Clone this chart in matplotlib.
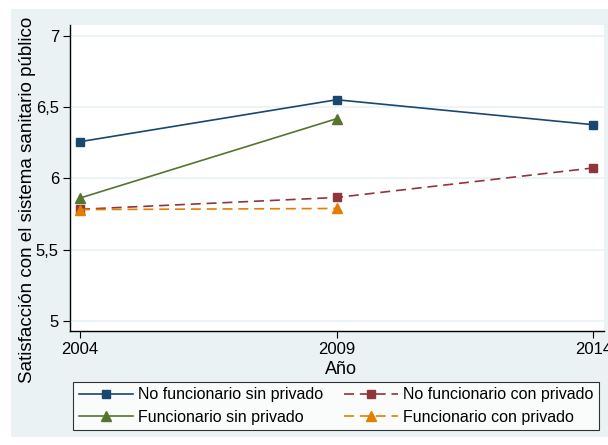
import matplotlib
matplotlib.use("Agg")
import matplotlib.pyplot as plt
from matplotlib.patches import Rectangle

plt.rcParams['font.family'] = ['Liberation Sans', 'DejaVu Sans']

years = [2004, 2009, 2014]
nf_sin = [6.257, 6.551, 6.376]
f_sin = [5.862, 6.418]
nf_con = [5.783, 5.866, 6.073]
f_con = [5.781, 5.789]
labels = ["No funcionario sin privado", "Funcionario sin privado",
          "No funcionario con privado", "Funcionario con privado"]
yticks = [5, 5.5, 6, 6.5, 7]
yticklabels = ["5", "5,5", "6", "6,5", "7"]

W, H = 608, 445
fig = plt.figure(figsize=(W/100, H/100), dpi=100)
fig.patch.set_facecolor('white')
bg = Rectangle((11/W, 1-437/H), 1-11/W, (437-9)/H, transform=fig.transFigure,
               facecolor='#eaf2f3', edgecolor='none', zorder=-10)
fig.patches.append(bg)

ax = fig.add_axes([70/W, 1-331/H, (604-70)/W, (331-25)/H])
ax.set_zorder(1)
ax.set_facecolor('white')

navy = '#1a476f'; maroon = '#90353b'; green = '#55752f'; orange = '#e37e00'
l1, = ax.plot(years, nf_sin, color=navy, lw=1.2, marker='s', ms=6, zorder=4)
l2, = ax.plot(years, nf_con, color=maroon, lw=1.2, ls=(0, (6, 3.5)), marker='s', ms=6, zorder=4)
l3, = ax.plot(years[:2], f_sin, color=green, lw=1.2, marker='^', ms=7, zorder=4)
l4, = ax.plot(years[:2], f_con, color=orange, lw=1.2, ls=(0, (6, 3.5)), marker='^', ms=7, zorder=4)

ax.set_xlim(2003.805, 2014.21)
ax.set_ylim(4.93, 7.075)
ax.set_xticks(years)
ax.set_xticklabels([str(y) for y in years], fontsize=12)
ax.set_yticks(yticks)
ax.set_yticklabels(yticklabels, fontsize=12)
ax.grid(axis='y', color='#eaf2f3', lw=1.2)
ax.set_axisbelow(True)
for s in ['top', 'right']:
    ax.spines[s].set_visible(False)
for s in ['left', 'bottom']:
    ax.spines[s].set_color('black')
    ax.spines[s].set_linewidth(1.0)
ax.tick_params(axis='both', direction='out', length=5, width=0.8, colors='black', pad=3)
ax.set_xlabel("Año", fontsize=13)
ax.xaxis.set_label_coords((341-70)/534, (331-369)/306)
ax.set_ylabel("Satisfacción con el sistema sanitario público", fontsize=13.5)
ax.yaxis.set_label_coords((28-70)/534, (331-200)/306)
ax.yaxis.label.set_va('center')
ax.xaxis.label.set_va('center')

leg = fig.legend([l1, l3, l2, l4], labels, ncol=2, loc='center',
                 bbox_to_anchor=((75+597)/2/W, 1-(381+431)/2/H),
                 fontsize=11.5, frameon=True, fancybox=False, edgecolor='black',
                 handlelength=3.4, handletextpad=0.3, columnspacing=1.3,
                 labelspacing=0.45, borderpad=0.35)
leg.get_frame().set_linewidth(0.8)
leg.set_zorder(5)

fig.savefig("out.png", dpi=100)
